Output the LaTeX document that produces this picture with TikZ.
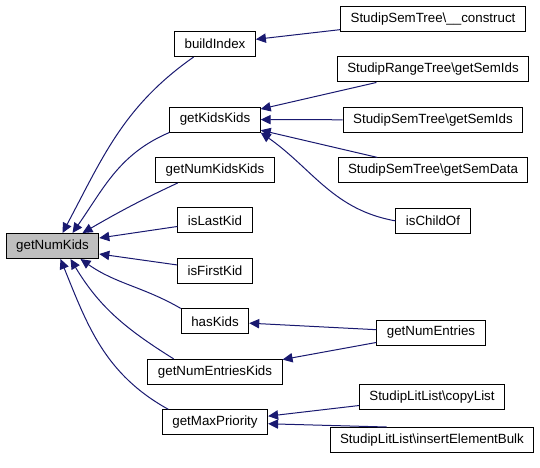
\documentclass[tikz,border=0pt]{standalone}
\usepackage{fontspec}
\setmainfont{Liberation Sans}
\usetikzlibrary{positioning,arrows.meta}
\definecolor{navy}{RGB}{25,25,112}
\tikzset{
  fn/.style={draw=black, line width=0.75pt, minimum height=18.75pt,
    inner xsep=7.5pt, inner ysep=0pt, font=\fontsize{10}{12}\selectfont},
  calls/.style={draw=navy, line width=0.75pt,
    -{Triangle[length=7.5pt,width=7pt,fill=navy]}},
}

\begin{document}
\begin{tikzpicture}[x=0.75pt, y=-0.75pt, node distance=18.35pt]
  \useasboundingbox (0,0) rectangle (540,468);

  \node [fn, fill=gray!50] (numkids) at (52.5,246) {getNumKids};
  \node [fn] (buildindex) at (215,44) {buildIndex};
  \node [fn, below=37.15pt of buildindex] (kidskids) {getKidsKids};
  \node [fn, below=of kidskids] (numkidskids) {getNumKidsKids};
  \node [fn, below=of numkidskids] (islast) {isLastKid};
  \node [fn, below=of islast] (isfirst) {isFirstKid};
  \node [fn, below=of isfirst] (haskids) {hasKids};
  \node [fn, below=of haskids] (entrieskids) {getNumEntriesKids};
  \node [fn, below=of entrieskids] (maxprio) {getMaxPriority};

  \node [fn] (construct) at (433,19) {StudipSemTree\textbackslash\_\_construct};
  \node [fn, below=of construct] (rangeids) {StudipRangeTree\textbackslash getSemIds};
  \node [fn, below=of rangeids] (semids) {StudipSemTree\textbackslash getSemIds};
  \node [fn, below=of semids] (semdata) {StudipSemTree\textbackslash getSemData};
  \node [fn, below=of semdata] (childof) {isChildOf};
  \node [fn] (numentries) at (431,332.5) {getNumEntries};
  \node [fn] (copylist) at (432,397) {StudipLitList\textbackslash copyList};
  \node [fn, below=12.75pt of copylist] (insertbulk) {StudipLitList\textbackslash insertElementBulk};

  \draw [calls] ([xshift=-16pt]buildindex.south) to[out=215, in=62] ([xshift=7.5pt]numkids.north);
  \draw [calls] (kidskids.south west) to[out=203, in=55] ([xshift=15pt]numkids.north);
  \draw [calls] ([xshift=-28pt]numkidskids.south) to[out=205, in=30] ([xshift=22.5pt]numkids.north);
  \draw [calls] ([yshift=-4.5pt]islast.west) -- ([yshift=6pt]numkids.east);
  \draw [calls] ([yshift=4.5pt]isfirst.west) -- ([yshift=-6pt]numkids.east);
  \draw [calls] (haskids.north west) to[out=150, in=-35] ([xshift=21pt]numkids.south);
  \draw [calls] ([xshift=-31pt]entrieskids.north) to[out=148, in=-59] ([xshift=13.5pt]numkids.south);
  \draw [calls] ([xshift=-35pt]maxprio.north) to[out=151, in=-68] ([xshift=6pt]numkids.south);

  \draw [calls] (construct) -- (buildindex);
  \draw [calls] (rangeids) -- (kidskids);
  \draw [calls] (semids) -- (kidskids);
  \draw [calls] (semdata) -- (kidskids);
  \draw [calls] (childof.west) to[out=170, in=-35] (kidskids.south east);
  \draw [calls] (numentries) -- (haskids);
  \draw [calls] (numentries) -- (entrieskids);
  \draw [calls] (copylist) -- (maxprio);
  \draw [calls] ([xshift=-34pt]insertbulk.north) -- (maxprio);
\end{tikzpicture}
\end{document}
